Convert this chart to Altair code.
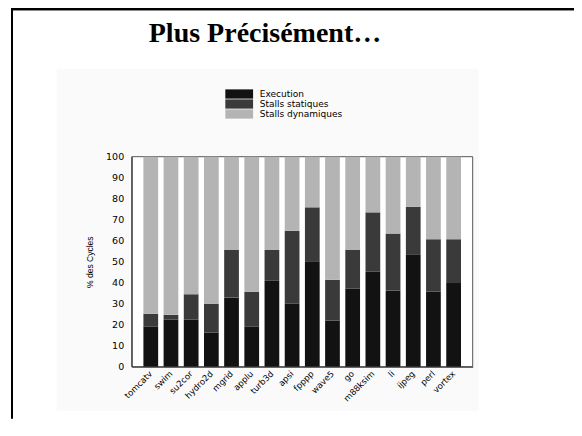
import altair as alt
import pandas as pd

benchmarks = ["tomcatv", "swim", "su2cor", "hydro2d", "mgrid", "applu", "turb3d", "apsi",
              "fpppp", "wave5", "go", "m88ksim", "li", "ijpeg", "perl", "vortex"]
execution = [19.2, 22.5, 22.5, 16.3, 33.0, 19.2, 40.9, 30.0, 50.2, 22.0, 37.2, 45.2, 36.3, 53.6, 35.7, 39.8]
stalls_statiques = [6.0, 2.2, 12.0, 13.7, 22.6, 16.5, 14.7, 34.7, 25.7, 19.4, 18.4, 28.3, 27.1, 22.5, 25.0, 20.9]
stalls_dynamiques = [74.8, 75.3, 65.5, 70.0, 44.4, 64.3, 44.4, 35.3, 24.1, 58.6, 44.4, 26.5, 36.6, 23.9, 39.3, 39.3]
categories = ["Execution", "Stalls statiques", "Stalls dynamiques"]
colors = ["#121212", "#3a3a3a", "#b4b4b4"]
y_ticks = list(range(0, 101, 10))
title_text = "Plus Précisément…"

rows = []
for i, b in enumerate(benchmarks):
    for k, (cat, vals) in enumerate(zip(categories, [execution, stalls_statiques, stalls_dynamiques])):
        rows.append({"benchmark": b, "category": cat, "value": vals[i], "ord": k})
df = pd.DataFrame(rows)

one = pd.DataFrame({"k": [1]})

# light chart background
bg = alt.Chart(one).mark_rect(color="#fafafa").encode(
    x=alt.value(-75), x2=alt.value(347), y=alt.value(-88), y2=alt.value(254)
)
# white plot area with its frame
plot_bg = alt.Chart(one).mark_rect(fill="#ffffff", stroke="#555555", strokeWidth=1).encode(
    x=alt.value(0), x2=alt.value(341), y=alt.value(0), y2=alt.value(210)
)

# slide frame (top border with a grey shadow line, left border kept off the page edge)
frame_top = alt.Chart(one).mark_rect(color="#000000").encode(
    x=alt.value(-120.7), x2=alt.value(442.3), y=alt.value(-148.7), y2=alt.value(-146.7)
)
frame_shadow = alt.Chart(one).mark_rect(color="#8a8a8a").encode(
    x=alt.value(-118.7), x2=alt.value(442.3), y=alt.value(-146.7), y2=alt.value(-145.7)
)
frame_left = alt.Chart(one).mark_rect(color="#000000").encode(
    x=alt.value(-120.7), x2=alt.value(-118.7), y=alt.value(-148.7), y2=alt.value(262)
)

title = alt.Chart(pd.DataFrame({"t": [title_text]})).mark_text(
    font="Liberation Serif", fontSize=28, fontWeight="bold", color="#000000",
    align="center", baseline="alphabetic"
).encode(x=alt.value(133.3), y=alt.value(-114.7), text="t:N")

bars = alt.Chart(df).mark_bar().encode(
    x=alt.X("benchmark:N", sort=benchmarks,
            scale=alt.Scale(paddingInner=0.27, paddingOuter=0.58),
            axis=alt.Axis(title=None, labelAngle=315, labelAlign="right", labelBaseline="middle",
                          labelFont="DejaVu Sans", labelFontSize=8.5, labelColor="#000000",
                          labelPadding=5, ticks=False, domainColor="#333333", zindex=1)),
    y=alt.Y("value:Q", stack="zero",
            scale=alt.Scale(domain=[0, 100], nice=False),
            axis=alt.Axis(values=y_ticks, title="% des Cycles", titleFont="Liberation Sans",
                          titleFontSize=8.5, titleFontWeight="normal", titleColor="#000000",
                          titleX=-39, titleY=105, titleAngle=270, titleAlign="center",
                          titleBaseline="alphabetic",
                          labelFont="DejaVu Sans", labelFontSize=9.5, labelColor="#000000",
                          labelPadding=8, ticks=False, grid=False, domainColor="#333333",
                          zindex=1)),
    color=alt.Color("category:N", scale=alt.Scale(domain=categories, range=colors),
                    legend=alt.Legend(orient="none", legendX=102.5, legendY=-67.7, title=None,
                                      symbolType="M-3,-1H3V1H-3Z", symbolSize=85.6,
                                      symbolStrokeWidth=0, symbolOpacity=1, rowPadding=0,
                                      labelFont="DejaVu Sans", labelFontSize=9,
                                      labelColor="#000000", labelOffset=15.5, padding=0)),
    order=alt.Order("ord:Q", sort="ascending"),
)

chart = alt.layer(bg, plot_bg, frame_top, frame_shadow, frame_left, title, bars).properties(
    width=341, height=210,
    padding={"left": 123.7, "top": 148.7, "right": 101.3, "bottom": 61.3},
    autosize=alt.AutoSizeParams(type="none"),
    background="#ffffff",
).configure_view(strokeWidth=0)

chart.save("out.html", embed_options={"renderer": "svg", "actions": False})
